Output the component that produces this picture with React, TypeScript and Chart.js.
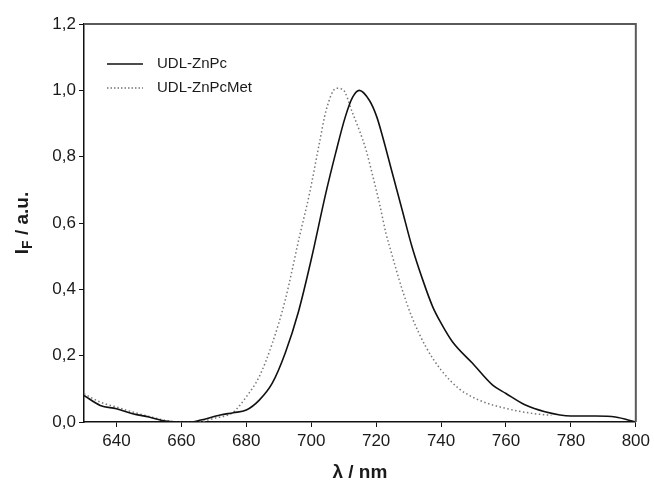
import React, { useEffect, useRef } from "react";
import { Chart, registerables } from "chart.js";

Chart.register(...registerables);

const seriesNames = ["UDL-ZnPc", "UDL-ZnPcMet"];

const znpcWavelength = [630, 635, 640, 645, 650, 655, 660, 663, 666, 672, 676, 680, 684, 688, 692, 696, 700, 704.5, 707.5, 710.5, 712.8, 714.8, 717.9, 720.2, 722, 725, 728, 731, 734.3, 737.4, 740, 743.5, 749.7, 755.8, 760, 766, 772, 780, 787.6, 793.7, 800];
const znpcIntensity = [0.08, 0.05, 0.04, 0.025, 0.015, 0.003, 0.0, 0.0, 0.006, 0.021, 0.028, 0.036, 0.066, 0.117, 0.208, 0.33, 0.49, 0.69, 0.81, 0.92, 0.98, 1.0, 0.97, 0.92, 0.86, 0.75, 0.64, 0.53, 0.43, 0.348, 0.298, 0.242, 0.177, 0.112, 0.086, 0.051, 0.031, 0.018, 0.018, 0.015, 0.0];

const metWavelength = [630, 635, 640, 645, 650, 655, 660, 665, 670, 676, 680, 684, 688, 692, 696.4, 699.5, 702.5, 704.6, 707.7, 709.7, 712.8, 714.8, 716.9, 719, 721, 723, 725, 728, 731, 735.3, 740, 745.6, 751.7, 760, 768, 774];
const metIntensity = [0.085, 0.06, 0.045, 0.03, 0.017, 0.005, 0.0, 0.0, 0.011, 0.03, 0.076, 0.137, 0.237, 0.368, 0.56, 0.69, 0.84, 0.94, 1.006, 1.003, 0.93, 0.88, 0.82, 0.74, 0.66, 0.57, 0.5, 0.4, 0.317, 0.227, 0.157, 0.1, 0.066, 0.041, 0.026, 0.02];

const xTicks = [640, 660, 680, 700, 720, 740, 760, 780, 800];
const yTicks = [0, 0.2, 0.4, 0.6, 0.8, 1.0, 1.2];

const xTitle = "λ / nm";
const yTitleMain = "I";
const yTitleSub = "F";
const yTitleRest = " / a.u.";

const FONT = "'Liberation Sans', Arial, sans-serif";

const decorPlugin = {
  id: "decor",
  afterDraw(chart: any) {
    const ctx = chart.ctx;
    const a = chart.chartArea;
    ctx.save();
    // top and right frame
    ctx.strokeStyle = "#5a5a5a";
    ctx.lineWidth = 2;
    ctx.beginPath();
    ctx.moveTo(a.left, a.top);
    ctx.lineTo(a.right, a.top);
    ctx.lineTo(a.right, a.bottom);
    ctx.stroke();

    // legend
    const lx1 = 107, lx2 = 143, tx = 157;
    const rows = [64, 88];
    ctx.lineWidth = 1.5;
    ctx.strokeStyle = "#111";
    ctx.setLineDash([]);
    ctx.beginPath();
    ctx.moveTo(lx1, rows[0]);
    ctx.lineTo(lx2, rows[0]);
    ctx.stroke();
    ctx.strokeStyle = "#777";
    ctx.setLineDash([1.5, 2]);
    ctx.beginPath();
    ctx.moveTo(lx1, rows[1]);
    ctx.lineTo(lx2, rows[1]);
    ctx.stroke();
    ctx.setLineDash([]);
    ctx.fillStyle = "#1a1a1a";
    ctx.font = `15px ${FONT}`;
    ctx.textBaseline = "middle";
    ctx.textAlign = "left";
    ctx.fillText(seriesNames[0], tx, rows[0]);
    ctx.fillText(seriesNames[1], tx, rows[1]);

    // x title
    ctx.font = `bold 19px ${FONT}`;
    ctx.textAlign = "center";
    ctx.fillText(xTitle, (a.left + a.right) / 2, 473);

    // y title (rotated, with subscript)
    ctx.translate(22, (a.top + a.bottom) / 2);
    ctx.rotate(-Math.PI / 2);
    const big = `bold 19px ${FONT}`;
    const small = `bold 14px ${FONT}`;
    ctx.font = big;
    const wI = ctx.measureText(yTitleMain).width;
    const wRest = ctx.measureText(yTitleRest).width;
    ctx.font = small;
    const wF = ctx.measureText(yTitleSub).width;
    const total = wI + wF + wRest;
    let x = -total / 2;
    ctx.textAlign = "left";
    ctx.textBaseline = "alphabetic";
    ctx.font = big;
    ctx.fillText(yTitleMain, x, 6);
    x += wI;
    ctx.font = small;
    ctx.fillText(yTitleSub, x, 10);
    x += wF;
    ctx.font = big;
    ctx.fillText(yTitleRest, x, 6);
    ctx.restore();
  },
};

export default function App() {
  const ref = useRef<HTMLCanvasElement | null>(null);

  useEffect(() => {
    if (!ref.current) return;
    const chart = new Chart(ref.current, {
      type: "line",
      data: {
        datasets: [
          {
            label: seriesNames[0],
            data: znpcWavelength.map((x, i) => ({ x, y: znpcIntensity[i] })),
            borderColor: "#111",
            borderWidth: 1.6,
            pointRadius: 0,
            fill: false,
            cubicInterpolationMode: "monotone",
          },
          {
            label: seriesNames[1],
            data: metWavelength.map((x, i) => ({ x, y: metIntensity[i] })),
            borderColor: "#777",
            borderWidth: 1.5,
            borderDash: [1.5, 2.5],
            pointRadius: 0,
            fill: false,
            cubicInterpolationMode: "monotone",
          },
        ],
      },
      plugins: [decorPlugin],
      options: {
        responsive: false,
        animation: false,
        layout: { padding: { top: 24, right: 17, left: 0, bottom: 0 } },
        plugins: {
          legend: { display: false },
          tooltip: { enabled: false },
        },
        scales: {
          x: {
            type: "linear",
            min: 630,
            max: 800,
            afterBuildTicks: (scale: any) => {
              scale.ticks = xTicks.map((v) => ({ value: v }));
            },
            afterFit: (scale: any) => {
              scale.height = 60;
            },
            grid: {
              display: true,
              drawOnChartArea: false,
              drawTicks: true,
              tickLength: 5,
              color: "#111",
            },
            border: { display: true, color: "#111", width: 1.5 },
            ticks: {
              padding: 4,
              color: "#1a1a1a",
              font: { family: FONT, size: 17 },
              maxRotation: 0,
              callback: (v: any) => String(v),
            },
          },
          y: {
            type: "linear",
            min: 0,
            max: 1.2,
            afterBuildTicks: (scale: any) => {
              scale.ticks = yTicks.map((v) => ({ value: v }));
            },
            afterFit: (scale: any) => {
              scale.width = 84;
            },
            grid: {
              display: true,
              drawOnChartArea: false,
              drawTicks: true,
              tickLength: 5,
              color: "#111",
            },
            border: { display: true, color: "#111", width: 1.5 },
            ticks: {
              padding: 3,
              color: "#1a1a1a",
              font: { family: FONT, size: 17 },
              callback: (v: any) => Number(v).toFixed(1).replace(".", ","),
            },
          },
        },
      },
    });
    return () => chart.destroy();
  }, []);

  return (
    <div style={{ position: "fixed", left: 0, top: 0, width: 654, height: 482, background: "#fff" }}>
      <canvas ref={ref} width={654} height={482} style={{ display: "block" }} />
    </div>
  );
}
